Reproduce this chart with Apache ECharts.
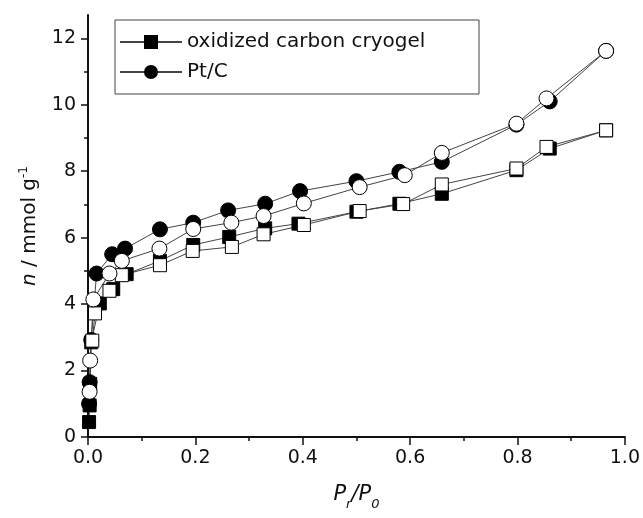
<!DOCTYPE html>
<html>
<head>
<meta charset="utf-8">
<script src="https://cdn.jsdelivr.net/npm/echarts@6/dist/echarts.min.js"></script>
<style>
  html, body { margin: 0; padding: 0; background: #fff; }
  #main { width: 643px; height: 518px; }
</style>
</head>
<body>
<div id="main"></div>
<script>
// isotherm data: [P/P0, n]
var oxAds = [[0.002,0.45],[0.003,0.95],[0.004,1.6],[0.006,2.85],[0.022,4.02],[0.047,4.45],[0.072,4.9],
  [0.134,5.3],[0.196,5.78],[0.263,6.02],[0.33,6.28],[0.392,6.42],[0.5,6.78],[0.58,7.02],[0.659,7.32],
  [0.798,8.03],[0.86,8.68],[0.965,9.23]];
var oxDes = [[0.965,9.23],[0.854,8.73],[0.798,8.08],[0.659,7.6],[0.587,7.01],[0.506,6.8],[0.402,6.38],
  [0.327,6.1],[0.268,5.72],[0.195,5.6],[0.134,5.17],[0.063,4.87],[0.04,4.4],[0.013,3.72],[0.008,2.9]];
var ptAds = [[0.002,1.0],[0.003,1.65],[0.006,2.92],[0.016,4.92],[0.045,5.5],[0.069,5.67],[0.134,6.25],
  [0.196,6.45],[0.261,6.82],[0.33,7.02],[0.395,7.4],[0.5,7.7],[0.58,7.98],[0.659,8.28],[0.798,9.4],
  [0.86,10.1],[0.965,11.62]];
var ptDes = [[0.965,11.62],[0.854,10.19],[0.798,9.43],[0.659,8.55],[0.59,7.88],[0.506,7.52],[0.402,7.03],
  [0.327,6.65],[0.267,6.45],[0.196,6.26],[0.133,5.67],[0.063,5.3],[0.04,4.92],[0.01,4.14],[0.004,2.3],
  [0.003,1.36]];
var legendNames = ['oxidized carbon cryogel', 'Pt/C'];
var yMajor = [0, 2, 4, 6, 8, 10, 12];
var yMinor = [1, 3, 5, 7, 9, 11];

var font = 'DejaVu Sans, Liberation Sans, sans-serif';
var lineCol = '#444';

function mkSeries(name, data, symbol, size, filled) {
  return {
    name: name,
    type: 'line',
    data: data,
    symbol: symbol,
    symbolSize: size,
    showAllSymbol: true,
    lineStyle: { color: lineCol, width: 1 },
    itemStyle: { color: filled ? '#000' : '#fff', borderColor: '#000', borderWidth: 1 },
    emphasis: { disabled: true },
    animation: false
  };
}

var myChart = echarts.init(document.getElementById('main'));
myChart.setOption({
  backgroundColor: '#fff',
  grid: { left: 88, right: 18, top: 15, bottom: 81 },
  legend: {
    data: legendNames,
    orient: 'vertical',
    left: 115, top: 20,
    padding: [11, 4, 11, 4],
    itemGap: 8,
    itemWidth: 62,
    itemHeight: 15,
    borderColor: '#444',
    borderWidth: 1,
    textStyle: { fontFamily: font, fontSize: 20, color: '#111', lineHeight: 22, width: 288 }
  },
  xAxis: {
    type: 'value',
    min: 0, max: 1.0, interval: 0.2,
    name: '{i|P}{s|r}{i|/P}{s|0}',
    nameLocation: 'middle',
    nameGap: 47,
    nameTextStyle: {
      rich: {
        i: { fontFamily: font, fontSize: 21, fontStyle: 'italic', color: '#111', verticalAlign: 'top' },
        s: { fontFamily: font, fontSize: 13, fontStyle: 'italic', color: '#111', padding: [14, 0, 0, 0] }
      }
    },
    axisLine: { lineStyle: { color: '#111', width: 2 } },
    axisTick: { inside: false, length: 8, lineStyle: { color: '#111', width: 1.5 } },
    minorTick: { show: true, splitNumber: 2, length: 4, lineStyle: { color: '#111', width: 1.5 } },
    splitLine: { show: false },
    axisLabel: {
      fontFamily: font, fontSize: 19, color: '#111', margin: 12,
      formatter: function (v) { return v.toFixed(1); }
    }
  },
  yAxis: [{
    type: 'value',
    min: 0, max: 12.7,
    name: '{i|n}{t| / mmol g}{s|-1}',
    nameLocation: 'middle',
    nameGap: 46,
    nameRotate: 90,
    nameTextStyle: {
      rich: {
        i: { fontFamily: font, fontSize: 20, fontStyle: 'italic', color: '#111' },
        t: { fontFamily: font, fontSize: 20, color: '#111' },
        s: { fontFamily: font, fontSize: 12, color: '#111', padding: [0, 0, 12, 0] }
      }
    },
    axisLine: { show: true, lineStyle: { color: '#111', width: 2 } },
    axisTick: { show: true, length: 7, customValues: yMajor, lineStyle: { color: '#111', width: 1.5 } },
    splitLine: { show: false },
    axisLabel: { fontFamily: font, fontSize: 19, color: '#111', margin: 12, customValues: yMajor }
  }, {
    type: 'value',
    min: 0, max: 12.7,
    position: 'left',
    axisLine: { show: false },
    axisTick: { show: true, length: 4, customValues: yMinor, lineStyle: { color: '#111', width: 1.5 } },
    axisLabel: { show: false },
    splitLine: { show: false }
  }],
  series: [
    mkSeries(legendNames[0], oxAds, 'rect', 13, true),
    mkSeries(legendNames[1], ptAds, 'circle', 15, true),
    mkSeries('ox-des', oxDes, 'rect', 13, false),
    mkSeries('pt-des', ptDes, 'circle', 15, false)
  ]
});
</script>
</body>
</html>
